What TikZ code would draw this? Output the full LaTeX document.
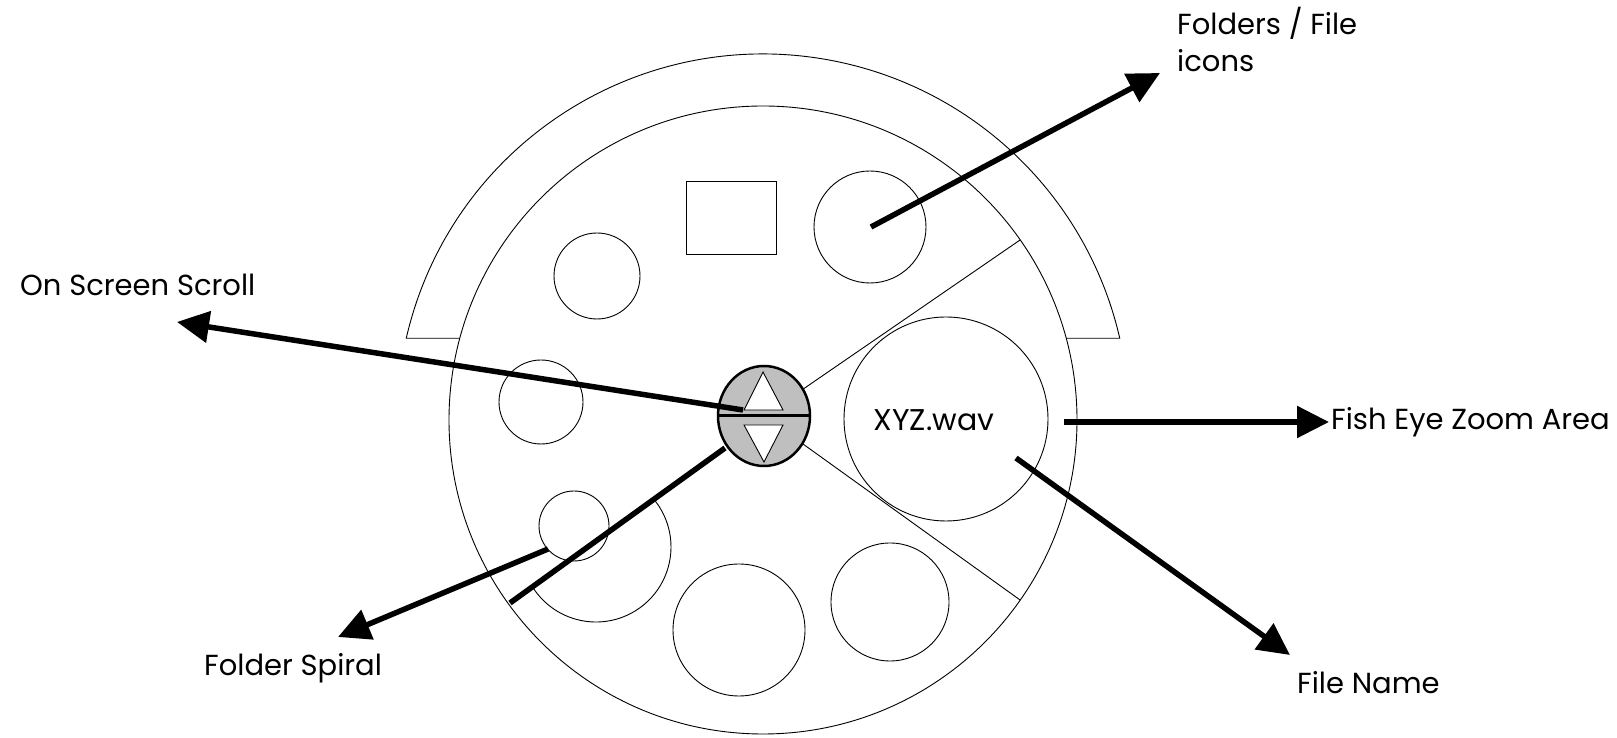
\documentclass[tikz,border=0pt]{standalone}
\usepackage{fontspec}
\setmainfont{Poppins}
\usetikzlibrary{arrows.meta,calc,shapes.geometric}
\begin{document}
\begin{tikzpicture}[x=1pt,y=1pt,
  thinline/.style={line width=0.9pt},
  icon/.style={circle,draw,thinline,inner sep=0pt},
  pointer/.style={line width=5.5pt,-{Triangle[length=32pt,width=31pt]}},
  bar/.style={line width=5.5pt},
  tag/.style={anchor=base west,inner sep=0pt,font=\fontsize{29}{36}\selectfont},
]
\useasboundingbox (0,0) rectangle (1617,738);

% centre of the dial
\coordinate (C) at (763,318);

% outer rim segment over the top
\draw[thinline] ($(C)+(164.9:314)$) -- ($(C)+(167.1:366)$)
  arc[start angle=167.1, end angle=12.9, radius=366]
  -- ($(C)+(15.1:314)$);

% main dial
\node[icon, minimum size=628] (dial) at (C) {};

% fish-eye sector boundaries
\coordinate (secA) at ($(C)+(35:314)$);
\coordinate (secB) at ($(C)+(-35:314)$);
\coordinate (W) at (764,322);
\draw[thinline] (W) -- (secA);
\draw[thinline] (W) -- (secB);

% folder and file icons
\node[draw, thinline, minimum width=90, minimum height=73, inner sep=0pt] (sq) at (731,520) {};
\node[icon, minimum size=112] (f1) at (870,511) {};
\node[icon, minimum size=86] (f2) at (597,462) {};
\node[icon, minimum size=84] (f3) at (541,336) {};
\draw[thinline] (596,191) ++(-147:75) arc[start angle=-147, end angle=40, radius=75];
\coordinate (f4) at (596,191);
\node[icon, minimum size=70] (f5) at (574,212) {};
\node[icon, minimum size=132] (f6) at (739,108) {};
\node[icon, minimum size=118] (f7) at (890,136) {};

% zoomed file
\node[icon, minimum size=204] (zoom) at (946,319) {};
\node[inner sep=0pt, font=\fontsize{30}{36}\selectfont] (fname) at (934,318) {XYZ.wav};

% scroll control
\node[ellipse, draw, line width=2.5pt, fill=black!25, minimum width=92, minimum height=100, inner sep=0pt] (scroll) at (W) {};
\draw[line width=3pt] (scroll.west) -- (scroll.east);
\draw[thinline, fill=white] (744,328) -- (783,328) -- (763,366) -- cycle;
\draw[thinline, fill=white] (744,313) -- (783,313) -- (764,276) -- cycle;

% labels
\node[tag] (lblA) at (1177,703) {Folders / File};
\node[tag] (lblA2) at (1177,666) {icons};
\node[tag] (lblB) at (20,442) {On Screen Scroll};
\node[tag] (lblC) at (1331,308) {Fish Eye Zoom Area};
\node[tag] (lblD) at (204,62) {Folder Spiral};
\node[tag] (lblE) at (1297,44) {File Name};

% pointers
\coordinate (pA0) at (871,511);
\coordinate (pA1) at (1160,665);
\draw[pointer] (pA0) -- (pA1);
\coordinate (pB0) at (743,328);
\coordinate (pB1) at (177,416);
\draw[pointer] (pB0) -- (pB1);
\coordinate (pC0) at (1064,316);
\coordinate (pC1) at (1329,316);
\draw[pointer] (pC0) -- (pC1);
\coordinate (pD0) at (548,189);
\coordinate (pD1) at (338,101);
\draw[pointer] (pD0) -- (pD1);
\coordinate (pE0) at (1016,280);
\coordinate (pE1) at (1290,83);
\draw[pointer] (pE0) -- (pE1);
\coordinate (bar0) at (725,290);
\coordinate (bar1) at (510,135);
\draw[bar] (bar0) -- (bar1);
\end{tikzpicture}
\end{document}
